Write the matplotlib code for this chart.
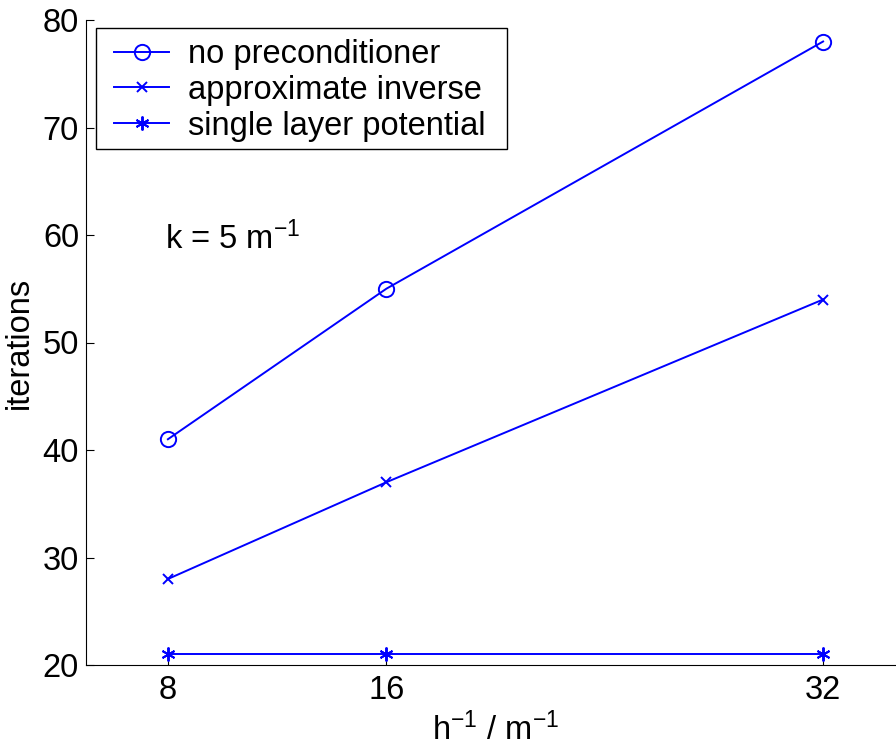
import matplotlib
matplotlib.use('Agg')
from matplotlib import pyplot as plt
from matplotlib.patches import Rectangle

plt.rcParams['font.family'] = ['Liberation Sans', 'DejaVu Sans']
plt.rcParams['mathtext.default'] = 'regular'

# data
h_inv = [8, 16, 32]
no_precond = [41, 55, 78]
approx_inverse = [28, 37, 54]
single_layer = [21, 21, 21]
labels = ['no preconditioner', 'approximate inverse', 'single layer potential']

fs = 23.5
fig = plt.figure(figsize=(8.96, 7.48), dpi=100)
ax = fig.add_axes([86/896, 1-665/748, 819/896, 645/748])

blue = '#0000ff'
ax.plot(h_inv, no_precond, color=blue, lw=1.4, marker='o', ms=11, mfc='none', mew=1.4, label=labels[0])
ax.plot(h_inv, approx_inverse, color=blue, lw=1.4, marker='x', ms=7, mew=1.4, label=labels[1])
ax.plot(h_inv, single_layer, color=blue, lw=1.4, marker=(6, 2, 0), ms=10, mew=1.4, label=labels[2])

ax.set_xlim(5, 35)
ax.set_ylim(20, 80)
ax.set_xticks(h_inv)
ax.set_yticks([20, 30, 40, 50, 60, 70, 80])
ax.spines['top'].set_visible(False)
ax.spines['right'].set_visible(False)
ax.tick_params(direction='in', length=6, width=0.8, labelsize=fs)
ax.tick_params(axis='x', pad=7)
ax.tick_params(axis='y', pad=5)

ax.text(7.9, 59.6, 'k = 5 m$^{-1}$', fontsize=fs, ha='left', va='center')

ax.set_ylabel('iterations', fontsize=fs)
ax.yaxis.set_label_coords(-0.063, 0.5)
ax.set_xlabel('h$^{-1}$ / m$^{-1}$', fontsize=fs)
ax.xaxis.set_label_coords(0.5, -0.074)

# legend without its own frame; box drawn separately (MATLAB-like padding)
leg = ax.legend(loc='upper left', bbox_to_anchor=(0.034, 0.9705), borderaxespad=0,
                fontsize=fs, frameon=False, handlelength=1.7, handletextpad=0.58,
                labelspacing=0.15, borderpad=0)
leg.set_zorder(6)
frame = Rectangle((0.0122, 0.800), 0.5018, 0.1876, transform=ax.transAxes,
                  facecolor='white', edgecolor='black', lw=1.0, zorder=5, clip_on=False)
ax.add_patch(frame)

plt.savefig('out.png', dpi=100)
